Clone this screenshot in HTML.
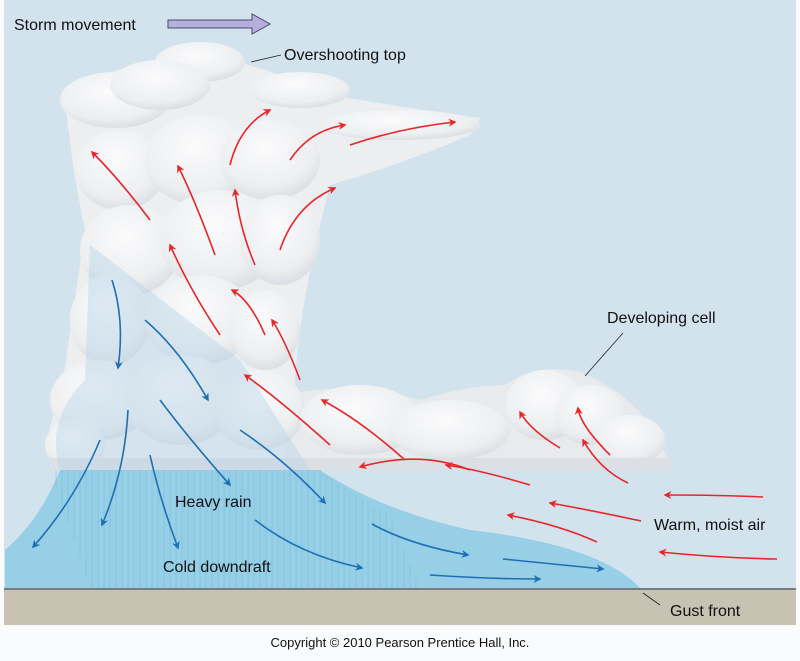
<!DOCTYPE html>
<html><head><style>
body{margin:0;width:800px;height:656px;background:#fafbfc;overflow:hidden;font-family:"Liberation Sans",sans-serif}
</style></head><body>
<svg width="800" height="656" viewBox="0 0 800 656" xmlns="http://www.w3.org/2000/svg">
<defs>
<marker id="r" viewBox="0 0 10 10" refX="8" refY="5" markerWidth="5" markerHeight="5" orient="auto"><path d="M0,0L10,5L0,10L3,5z" fill="#e8262a"/></marker>
<marker id="b" viewBox="0 0 10 10" refX="8" refY="5" markerWidth="5" markerHeight="5" orient="auto"><path d="M0,0L10,5L0,10L3,5z" fill="#1e6fb5"/></marker>
<radialGradient id="pf" cx="0.45" cy="0.35" r="0.7"><stop offset="0" stop-color="#fbfbfc"/><stop offset="0.7" stop-color="#eceef0"/><stop offset="1" stop-color="#d6dadf"/></radialGradient>
<pattern id="st" width="6" height="120" patternUnits="userSpaceOnUse"><line x1="2" y1="0" x2="2" y2="120" stroke="#6fb6d8" stroke-width="0.8" opacity="0.6"/></pattern>
</defs>
<rect x="4" y="0" width="792" height="590" fill="#d3e3ee"/>
<rect x="4" y="588" width="792" height="37" fill="#c8c2b2"/>
<line x1="4" y1="589" x2="796" y2="589" stroke="#5a6670" stroke-width="1.5"/>
<path d="M5,550 Q40,520 60,470 L320,470 Q380,510 470,530 Q600,545 640,588 L5,588 Z" fill="#96cfe6"/>
<path d="M50,470 L320,470 Q360,500 390,515 L420,588 L90,588 Z" fill="url(#st)"/>
<g fill="url(#pf)">
<path d="M65,95 Q120,60 200,55 Q250,60 330,95 Q420,110 480,118 L470,135 Q400,165 330,185 Q300,300 295,380 L300,470 L55,470 Q40,440 60,400 Q75,300 85,230 Q70,160 65,95 Z" fill="#eceef0"/>
<path d="M285,470 L285,395 Q350,380 420,400 Q470,385 505,385 Q540,362 580,372 Q625,390 650,425 L672,465 L285,470 Z" fill="#e8eaed"/>
<ellipse cx="200" cy="62" rx="45" ry="20"/>
<ellipse cx="115" cy="100" rx="55" ry="28"/>
<ellipse cx="160" cy="85" rx="50" ry="25"/>
<ellipse cx="300" cy="90" rx="50" ry="18"/>
<ellipse cx="400" cy="125" rx="80" ry="15"/>
<ellipse cx="120" cy="170" rx="45" ry="40"/>
<ellipse cx="200" cy="160" rx="55" ry="45"/>
<ellipse cx="270" cy="160" rx="50" ry="40"/>
<ellipse cx="130" cy="250" rx="50" ry="45"/>
<ellipse cx="220" cy="240" rx="60" ry="50"/>
<ellipse cx="280" cy="240" rx="40" ry="45"/>
<ellipse cx="110" cy="320" rx="40" ry="45"/>
<ellipse cx="200" cy="320" rx="55" ry="45"/>
<ellipse cx="265" cy="330" rx="35" ry="40"/>
<ellipse cx="100" cy="400" rx="50" ry="40"/>
<ellipse cx="180" cy="400" rx="55" ry="45"/>
<ellipse cx="260" cy="410" rx="45" ry="40"/>
<ellipse cx="75" cy="445" rx="30" ry="25"/>
<ellipse cx="360" cy="420" rx="60" ry="35"/>
<ellipse cx="450" cy="430" rx="60" ry="30"/>
<ellipse cx="545" cy="405" rx="40" ry="35"/>
<ellipse cx="590" cy="415" rx="35" ry="30"/>
<ellipse cx="630" cy="440" rx="35" ry="25"/>
</g>
<rect x="50" y="458" width="622" height="12" fill="#dcdfe3"/>
<path d="M90,245 L240,360 L310,470 L60,470 Q45,420 85,380 Z" fill="#b8d4e8" opacity="0.45"/>
<g fill="none" stroke="#e8262a" stroke-width="1.6" marker-end="url(#r)">
<path d="M150,220 Q120,180 92,152"/>
<path d="M215,255 Q195,200 178,166"/>
<path d="M255,265 Q240,230 235,190"/>
<path d="M230,165 Q240,125 270,110"/>
<path d="M290,160 Q310,130 345,125"/>
<path d="M350,145 Q400,128 455,122"/>
<path d="M280,250 Q295,205 335,188"/>
<path d="M220,335 Q190,290 170,245"/>
<path d="M265,335 Q250,300 232,290"/>
<path d="M300,380 Q285,340 272,320"/>
<path d="M330,445 Q280,400 245,375"/>
<path d="M405,460 Q360,420 322,400"/>
<path d="M470,470 Q420,450 360,467"/>
<path d="M530,485 Q480,470 446,465"/>
<path d="M560,448 Q530,430 520,412"/>
<path d="M610,455 Q580,425 578,408"/>
<path d="M628,483 Q600,470 583,440"/>
<path d="M763,497 Q720,495 665,495"/>
<path d="M641,521 Q590,510 550,503"/>
<path d="M597,542 Q560,525 508,515"/>
<path d="M777,559 Q720,558 660,552"/>
</g>
<g fill="none" stroke="#1e6fb5" stroke-width="1.6" marker-end="url(#b)">
<path d="M112,280 Q125,320 118,368"/>
<path d="M145,320 Q180,350 208,400"/>
<path d="M160,400 Q190,440 230,485"/>
<path d="M240,430 Q285,460 325,503"/>
<path d="M128,410 Q125,470 102,525"/>
<path d="M100,440 Q75,500 33,547"/>
<path d="M150,455 Q160,500 178,548"/>
<path d="M255,520 Q300,555 362,568"/>
<path d="M372,524 Q410,545 468,555"/>
<path d="M503,559 Q555,564 603,569"/>
<path d="M430,575 Q490,579 540,579"/>
</g>
<path d="M168,20 L252,20 L252,14 L270,24 L252,34 L252,28 L168,28 Z" fill="#b7b0de" stroke="#4a4a6a" stroke-width="1"/>
<g stroke="#222" stroke-width="0.8" fill="none">
<line x1="281" y1="55" x2="251" y2="62"/>
<line x1="623" y1="333" x2="585" y2="376"/>
<line x1="660" y1="605" x2="643" y2="593"/>
</g>
<g font-family="Liberation Sans,sans-serif" font-size="16" fill="#111">
<text x="14" y="30">Storm movement</text>
<text x="284" y="60">Overshooting top</text>
<text x="607" y="323">Developing cell</text>
<text x="175" y="507">Heavy rain</text>
<text x="163" y="572">Cold downdraft</text>
<text x="654" y="530">Warm, moist air</text>
<text x="670" y="616">Gust front</text>
</g>
<text x="400" y="647" text-anchor="middle" font-size="13" fill="#111" font-family="Liberation Sans,sans-serif">Copyright © 2010 Pearson Prentice Hall, Inc.</text>
</svg>
</body></html>
